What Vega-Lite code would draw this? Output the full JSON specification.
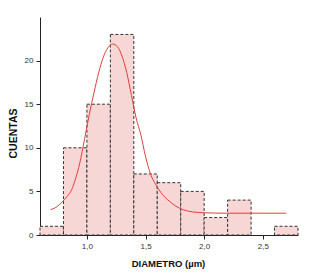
{
  "$schema": "https://vega.github.io/schema/vega-lite/v6.json",
  "width": 258,
  "height": 218,
  "autosize": "none",
  "padding": {"left": 40, "top": 17, "right": 11, "bottom": 41},
  "background": "white",
  "config": {
    "view": {"stroke": null},
    "axis": {"grid": false, "domainColor": "#222", "tickColor": "#222", "labelColor": "#333", "labelFont": "Liberation Sans", "titleFont": "Liberation Sans", "labelFontSize": 8, "titleFontSize": 9.5, "titleFontWeight": "bold", "titleColor": "#111"}
  },
  "datasets": {
    "bins": [
      {"start": 0.6, "end": 0.8, "count": 1},
      {"start": 0.8, "end": 1.0, "count": 10},
      {"start": 1.0, "end": 1.2, "count": 15},
      {"start": 1.2, "end": 1.4, "count": 23},
      {"start": 1.4, "end": 1.6, "count": 7},
      {"start": 1.6, "end": 1.8, "count": 6},
      {"start": 1.8, "end": 2.0, "count": 5},
      {"start": 2.0, "end": 2.2, "count": 2},
      {"start": 2.2, "end": 2.4, "count": 4},
      {"start": 2.6, "end": 2.8, "count": 1}
    ],
    "fit": [
      {"d": 0.69, "c": 2.9}, {"d": 0.75, "c": 3.3}, {"d": 0.79, "c": 3.8}, {"d": 0.83, "c": 4.4},
      {"d": 0.87, "c": 5.2}, {"d": 0.9, "c": 6.3}, {"d": 0.94, "c": 8.3}, {"d": 0.98, "c": 11.0},
      {"d": 1.02, "c": 13.8}, {"d": 1.06, "c": 16.3}, {"d": 1.1, "c": 18.6}, {"d": 1.14, "c": 20.4},
      {"d": 1.18, "c": 21.5}, {"d": 1.22, "c": 21.9}, {"d": 1.26, "c": 21.6}, {"d": 1.3, "c": 20.5},
      {"d": 1.34, "c": 18.6}, {"d": 1.38, "c": 16.0}, {"d": 1.42, "c": 13.4}, {"d": 1.46, "c": 11.5},
      {"d": 1.5, "c": 9.0}, {"d": 1.54, "c": 7.1}, {"d": 1.6, "c": 5.5}, {"d": 1.66, "c": 4.4},
      {"d": 1.71, "c": 3.8}, {"d": 1.76, "c": 3.3}, {"d": 1.82, "c": 2.9}, {"d": 1.9, "c": 2.65},
      {"d": 2.0, "c": 2.55}, {"d": 2.2, "c": 2.5}, {"d": 2.5, "c": 2.5}, {"d": 2.7, "c": 2.5}
    ]
  },
  "layer": [
    {
      "data": {"name": "bins"},
      "mark": {"type": "rect", "fill": "#f7d6d6", "stroke": "#333", "strokeWidth": 1, "strokeDash": [3, 2]},
      "encoding": {
        "x": {"field": "start", "type": "quantitative", "scale": {"domain": [0.6, 2.8], "nice": false, "zero": false},
          "axis": {"title": "DIAMETRO (µm)", "values": [1.0, 1.5, 2.0, 2.5], "labelExpr": "replace(format(datum.value, '.1f'), '.', ',')", "tickSize": 4, "labelPadding": 3, "titlePadding": 8, "titleX": 128}},
        "x2": {"field": "end"},
        "y": {"field": "count", "type": "quantitative", "scale": {"domain": [0, 25], "nice": false},
          "axis": {"title": "CUENTAS", "values": [0, 5, 10, 15, 20], "tickSize": 4, "labelPadding": 3, "titleFontSize": 10.5, "titleX": -22, "titleY": 116}},
        "y2": {"datum": 0}
      }
    },
    {
      "data": {"name": "fit"},
      "mark": {"type": "line", "color": "#e0403c", "strokeWidth": 1, "interpolate": "monotone"},
      "encoding": {
        "x": {"field": "d", "type": "quantitative"},
        "y": {"field": "c", "type": "quantitative"}
      }
    }
  ]
}
